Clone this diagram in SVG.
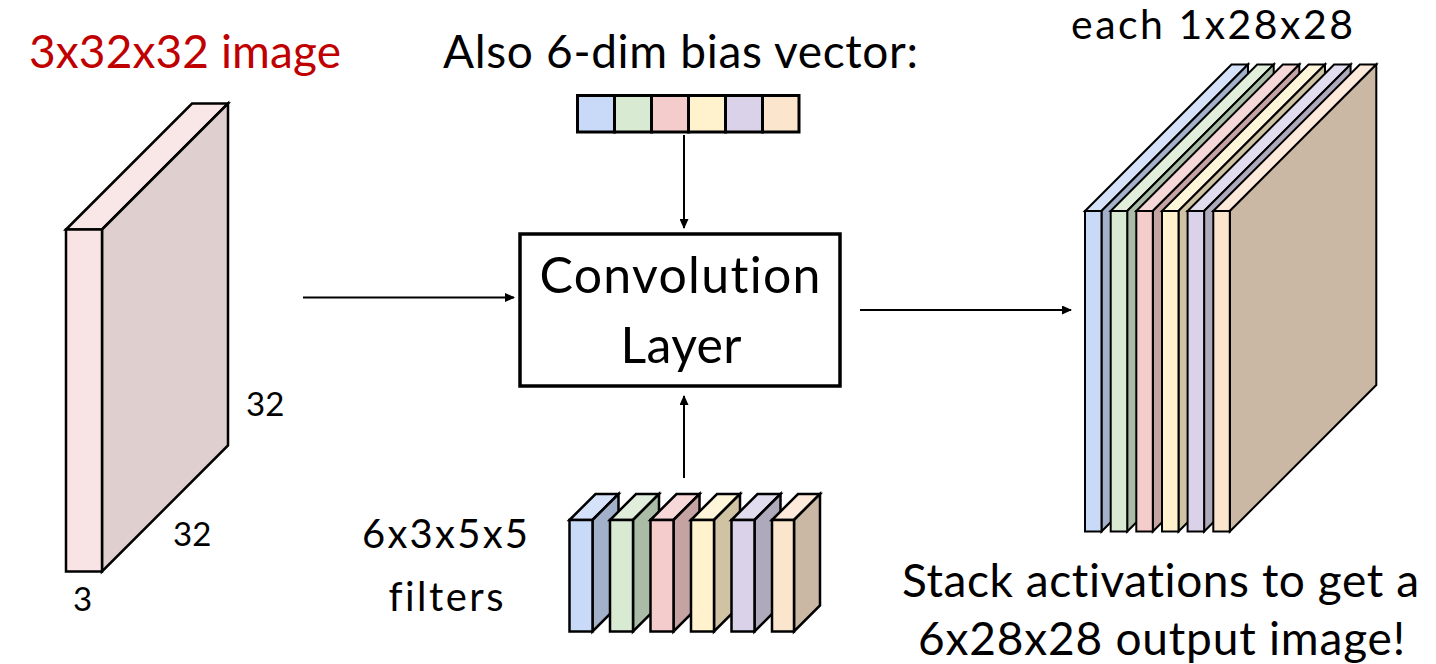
<svg xmlns="http://www.w3.org/2000/svg" width="1436" height="664" viewBox="0 0 1436 664">
<style>
  .t { font-family: Lato, "Open Sans", "Liberation Sans", sans-serif; fill: #000; font-variant-ligatures: none; font-feature-settings: "liga" 0; }
  .ln { stroke: #000; stroke-width: 2.5; stroke-linejoin: miter; }
  .lo { stroke: #000; stroke-width: 2; stroke-linejoin: miter; }
  .conn { stroke: #000; stroke-width: 2; fill: none; }
  .bt { fill: #d6e2f9; } .bf { fill: #c9daf8; } .bs { fill: #a2b1c9; }
  .gt { fill: #e1eedc; } .gf { fill: #d9ead3; } .gs { fill: #abbca6; }
  .pt { fill: #f6d8d8; } .pf { fill: #f4cccc; } .ps { fill: #c6a3a3; }
  .yt { fill: #fff5d9; } .yf { fill: #fff2cc; } .ys { fill: #cfc3a4; }
  .lt { fill: #e1dcee; } .lf { fill: #d9d2e9; } .ls { fill: #aeaabc; }
  .ot { fill: #fdeadb; } .of { fill: #fce5cd; } .os { fill: #cab8a4; }
</style>
<defs>
  <marker id="ah" markerUnits="userSpaceOnUse" markerWidth="10" markerHeight="9" refX="9" refY="4.5" orient="auto">
    <path d="M0,0 L10,4.5 L0,9 z" fill="#000"/>
  </marker>
</defs>
<rect width="1436" height="664" fill="#fff"/>

<g id="input-volume">
  <text class="t" x="29" y="68" font-size="46" style="fill:#c00000" textLength="312">3x32x32 image</text>
  <polygon class="ln" fill="#f9e7e7" points="66,229.5 192,103.5 228,103.5 102,229.5"/>
  <polygon class="ln" fill="#dfcfcf" points="102,229.5 228,103.5 228,445.5 102,571.5"/>
  <rect class="ln" fill="#f8e4e4" x="66" y="229.5" width="36" height="342"/>
  <text class="t" x="246" y="416" font-size="33">32</text>
  <text class="t" x="173" y="545.5" font-size="33">32</text>
  <text class="t" x="73" y="611" font-size="33">3</text>
</g>

<g id="bias-vector">
  <text class="t" x="443" y="68" font-size="46" textLength="475">Also 6-dim bias vector:</text>
  <g stroke="#000" stroke-width="3">
    <rect class="bf" x="577.5" y="95.5" width="37" height="36.5"/>
    <rect class="gf" x="614.5" y="95.5" width="37" height="36.5"/>
    <rect class="pf" x="651.5" y="95.5" width="37" height="36.5"/>
    <rect class="yf" x="688.5" y="95.5" width="37" height="36.5"/>
    <rect class="lf" x="725.5" y="95.5" width="37" height="36.5"/>
    <rect class="of" x="762.5" y="95.5" width="36.5" height="36.5"/>
  </g>
</g>

<g id="conv-layer">
  <rect x="520" y="234" width="320" height="152" fill="#fff" stroke="#000" stroke-width="3.5"/>
  <text class="t" x="680" y="293" font-size="50" text-anchor="middle" textLength="281">Convolution</text>
  <text class="t" x="681" y="363" font-size="50" text-anchor="middle" textLength="121">Layer</text>
</g>

<g id="filters">
  <text class="t" x="362" y="548" font-size="40" textLength="166">6x3x5x5</text>
  <text class="t" x="388.5" y="610.5" font-size="40" textLength="115">filters</text>
  <g class="ln">
    <polygon class="bt" points="569.5,520 595.5,494 618.5,494 592.5,520"/>
    <polygon class="bs" points="592.5,520 618.5,494 618.5,605.5 592.5,631.5"/>
    <rect class="bf" x="569.5" y="520" width="23" height="111.5"/>
  </g>
  <g class="ln">
    <polygon class="gt" points="610,520 636,494 659,494 633,520"/>
    <polygon class="gs" points="633,520 659,494 659,605.5 633,631.5"/>
    <rect class="gf" x="610" y="520" width="23" height="111.5"/>
  </g>
  <g class="ln">
    <polygon class="pt" points="650.5,520 676.5,494 699.5,494 673.5,520"/>
    <polygon class="ps" points="673.5,520 699.5,494 699.5,605.5 673.5,631.5"/>
    <rect class="pf" x="650.5" y="520" width="23" height="111.5"/>
  </g>
  <g class="ln">
    <polygon class="yt" points="691,520 717,494 740,494 714,520"/>
    <polygon class="ys" points="714,520 740,494 740,605.5 714,631.5"/>
    <rect class="yf" x="691" y="520" width="23" height="111.5"/>
  </g>
  <g class="ln">
    <polygon class="lt" points="731.5,520 757.5,494 780.5,494 754.5,520"/>
    <polygon class="ls" points="754.5,520 780.5,494 780.5,605.5 754.5,631.5"/>
    <rect class="lf" x="731.5" y="520" width="23" height="111.5"/>
  </g>
  <g class="ln">
    <polygon class="ot" points="772,520 798,494 820,494 794,520"/>
    <polygon class="os" points="794,520 820,494 820,605.5 794,631.5"/>
    <rect class="of" x="772" y="520" width="22" height="111.5"/>
  </g>
</g>

<g id="output-volume">
  <text class="t" x="1071" y="39" font-size="41" textLength="282">each 1x28x28</text>
  <g class="lo">
    <polygon class="bt" points="1085,211 1231.5,64.5 1248,64.5 1101.5,211"/>
    <polygon class="bs" points="1101.5,211 1248,64.5 1248,385 1101.5,531.5"/>
    <rect class="bf" x="1085" y="211" width="16.5" height="320.5"/>
  </g>
  <g class="lo">
    <polygon class="gt" points="1110.7,211 1257.2,64.5 1273.7,64.5 1127.2,211"/>
    <polygon class="gs" points="1127.2,211 1273.7,64.5 1273.7,385 1127.2,531.5"/>
    <rect class="gf" x="1110.7" y="211" width="16.5" height="320.5"/>
  </g>
  <g class="lo">
    <polygon class="pt" points="1136.3,211 1282.8,64.5 1299.3,64.5 1152.8,211"/>
    <polygon class="ps" points="1152.8,211 1299.3,64.5 1299.3,385 1152.8,531.5"/>
    <rect class="pf" x="1136.3" y="211" width="16.5" height="320.5"/>
  </g>
  <g class="lo">
    <polygon class="yt" points="1162,211 1308.5,64.5 1325,64.5 1178.5,211"/>
    <polygon class="ys" points="1178.5,211 1325,64.5 1325,385 1178.5,531.5"/>
    <rect class="yf" x="1162" y="211" width="16.5" height="320.5"/>
  </g>
  <g class="lo">
    <polygon class="lt" points="1187.6,211 1334.1,64.5 1350.6,64.5 1204.1,211"/>
    <polygon class="ls" points="1204.1,211 1350.6,64.5 1350.6,385 1204.1,531.5"/>
    <rect class="lf" x="1187.6" y="211" width="16.5" height="320.5"/>
  </g>
  <g class="lo">
    <polygon class="ot" points="1213.3,211 1359.8,64.5 1376.3,64.5 1229.8,211"/>
    <polygon class="os" points="1229.8,211 1376.3,64.5 1376.3,385 1229.8,531.5"/>
    <rect class="of" x="1213.3" y="211" width="16.5" height="320.5"/>
  </g>
  <text class="t" x="902" y="597" font-size="46" textLength="517">Stack activations to get a</text>
  <text class="t" x="918" y="655" font-size="46" textLength="487">6x28x28 output image!</text>
</g>

<g id="connectors">
  <line class="conn" x1="303" y1="297.5" x2="514" y2="297.5" marker-end="url(#ah)"/>
  <line class="conn" x1="860" y1="310" x2="1071" y2="310" marker-end="url(#ah)"/>
  <line class="conn" x1="684" y1="135" x2="684" y2="228" marker-end="url(#ah)"/>
  <line class="conn" x1="684" y1="478" x2="684" y2="396" marker-end="url(#ah)"/>
</g>
</svg>
